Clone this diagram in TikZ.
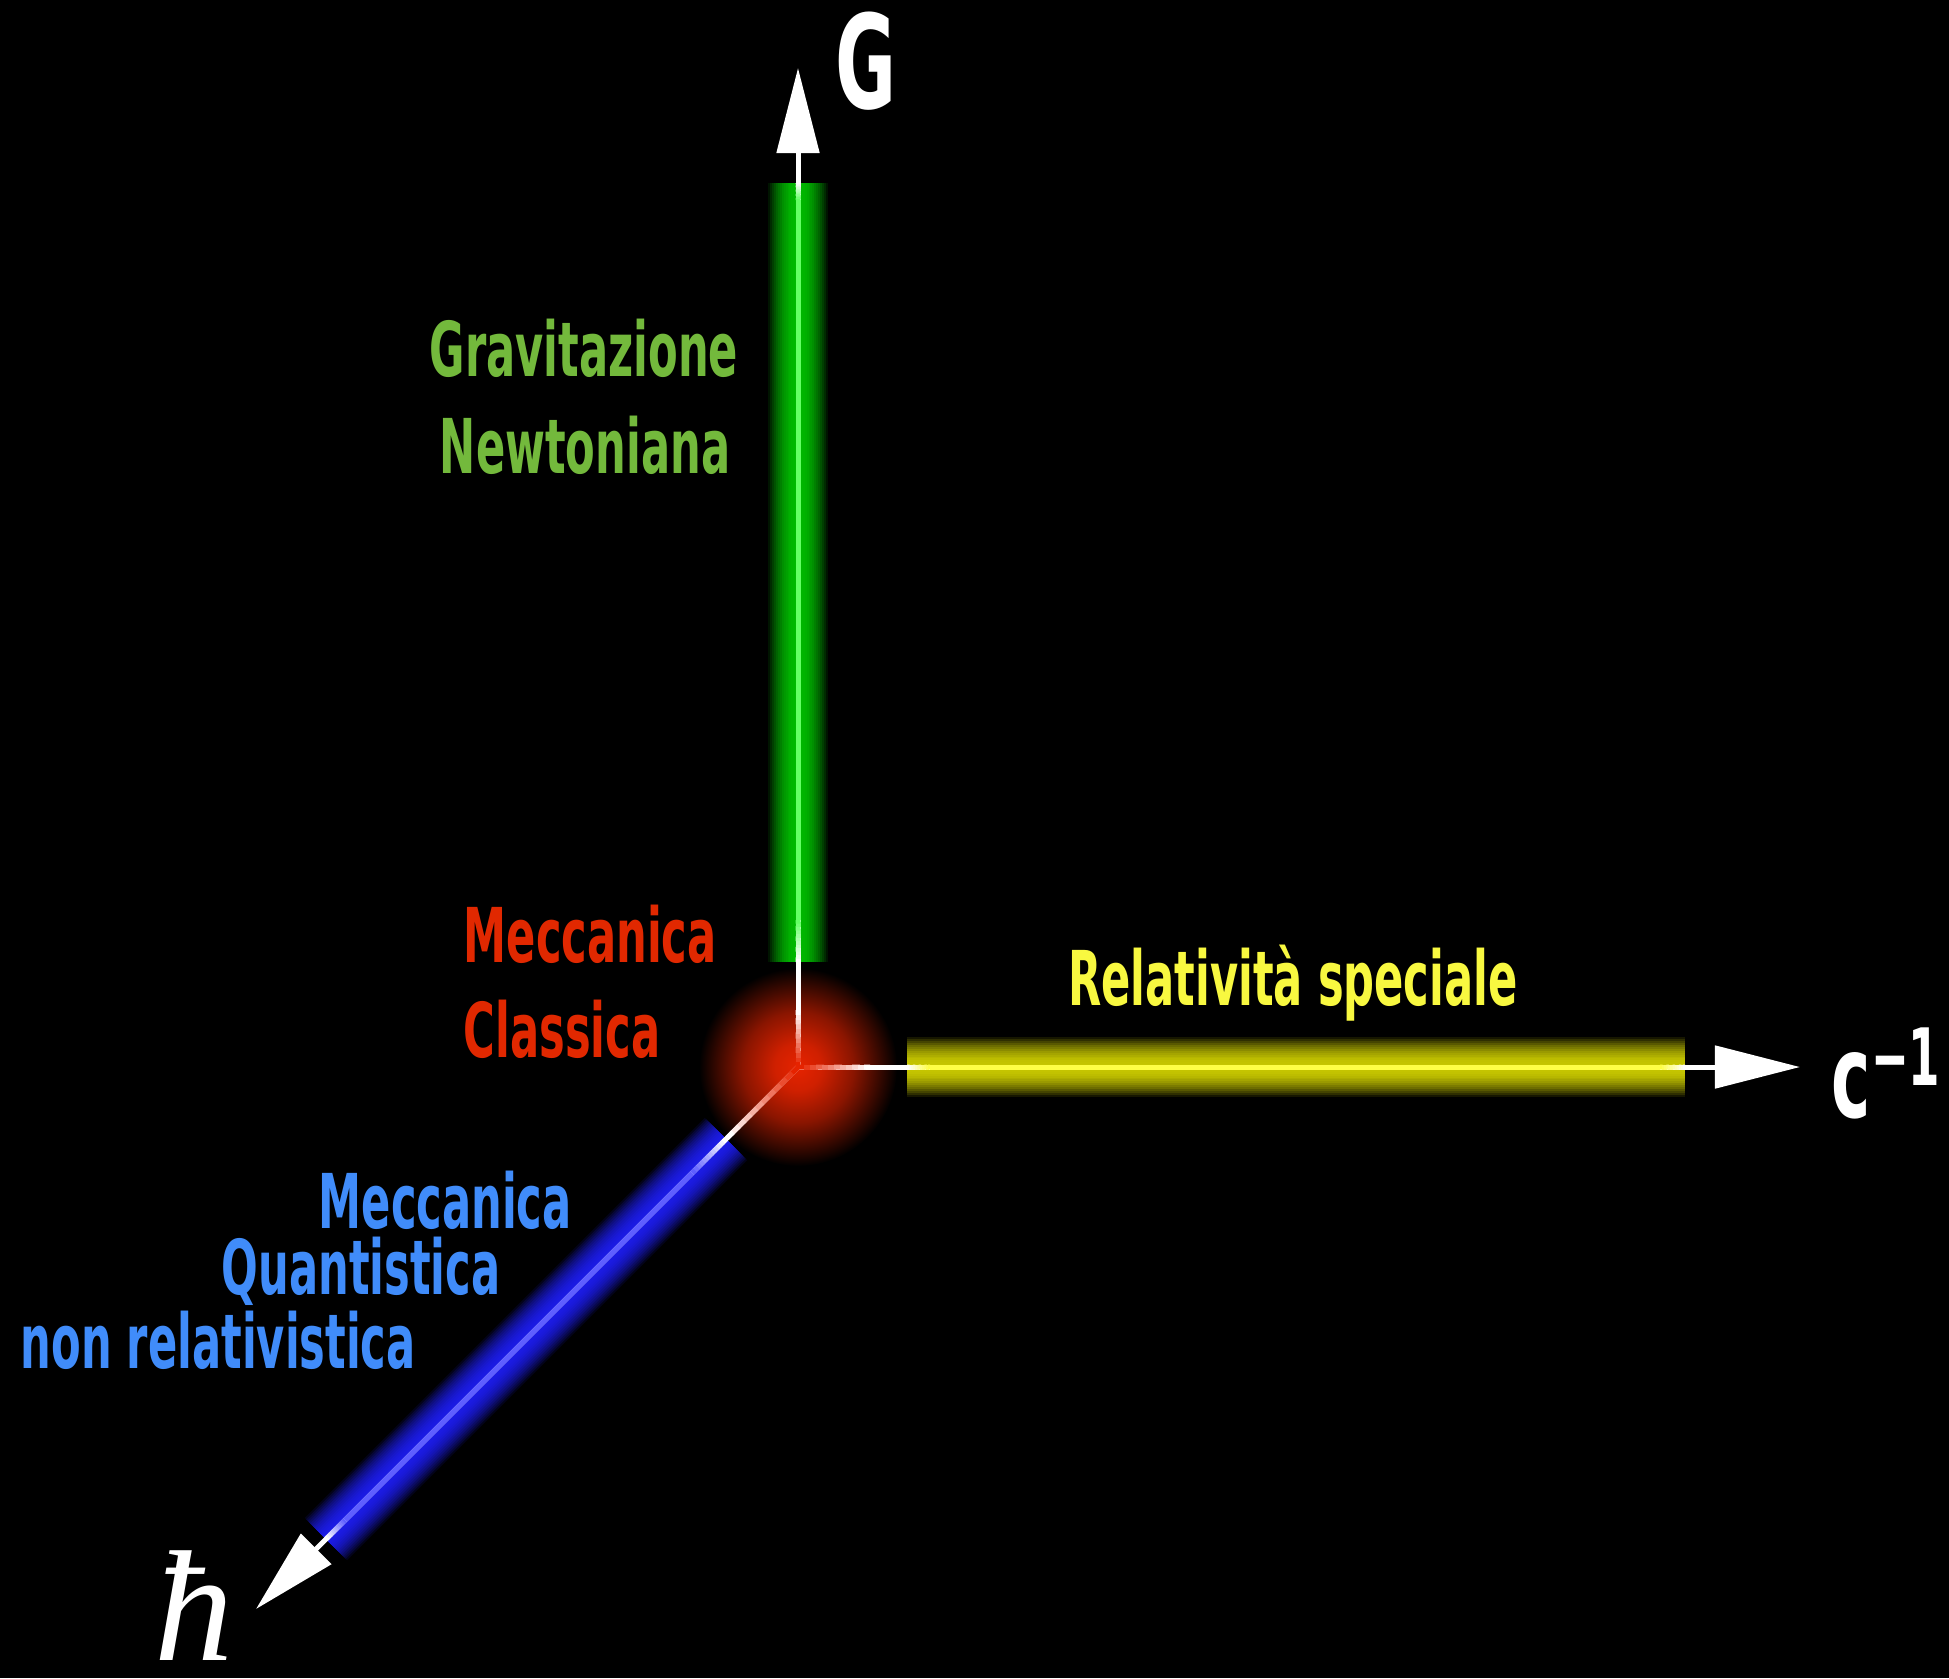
\documentclass[tikz,border=0pt]{standalone}
\usepackage{fontspec}
\newfontfamily\dinfont{DejaVu Sans Condensed Bold}[FakeStretch=0.635]
\newfontfamily\hbarfont{Liberation Serif Italic}
\usetikzlibrary{arrows.meta, calc}
\definecolor{GravGreen}{RGB}{115,185,60}
\definecolor{ClassRed}{RGB}{225,40,0}
\definecolor{RelYellow}{RGB}{248,248,64}
\definecolor{QuantBlue}{RGB}{64,140,250}
\definecolor{GlowGreen}{RGB}{0,205,0}
\definecolor{LineGreen}{RGB}{100,255,100}
\definecolor{GlowYellow}{RGB}{220,220,0}
\definecolor{LineYellow}{RGB}{255,255,70}
\definecolor{GlowBlue}{RGB}{30,30,255}
\definecolor{LineBlue}{RGB}{95,95,255}
\definecolor{CoreRed}{RGB}{230,35,0}
\pgfdeclareradialshading{coreglow}{\pgfpoint{0bp}{0bp}}{%
  color(0bp)=(CoreRed); color(6bp)=(CoreRed!90!black); color(14bp)=(CoreRed!60!black);
  color(21bp)=(CoreRed!22!black); color(25bp)=(black); color(50bp)=(black)}

\tikzset{
  axisline/.style={white, line width=0.05cm, -{Triangle[length=0.85cm, width=0.42cm]}},
  coreline/.style={line width=0.05cm},
  lbl/.style={inner sep=0pt, font=\dinfont\fontsize{21.5}{26}\selectfont},
  axislbl/.style={inner sep=0pt, text=white},
}

% soft glowing bar between two points
\newcommand{\glowband}[3]{%
  \foreach \k in {0,...,14}{%
    \pgfmathsetmacro{\bw}{0.60-0.039*\k}%
    \pgfmathtruncatemacro{\bc}{10+80*(1-(1-\k/14)^2)}%
    \draw[line width=\bw cm, #3!\bc!black] (#1) -- (#2);
  }}
% thin line fading from one colour to another
\newcommand{\gradseg}[4]{%
  \foreach \k in {0,...,11}{%
    \pgfmathtruncatemacro{\gp}{100-100*\k/11}%
    \pgfmathsetmacro{\ka}{\k/12}%
    \pgfmathsetmacro{\kb}{min(1,(\k+1.3)/12)}%
    \draw[coreline, #3!\gp!#4] ($(#1)!\ka!(#2)$) -- ($(#1)!\kb!(#2)$);
  }}

\begin{document}
\begin{tikzpicture}[x=0.01cm, y=-0.01cm]
  \fill[black] (0,0) rectangle (1949,1678);
  \useasboundingbox (0,0) rectangle (1949,1678);

  % axes
  \coordinate (O) at (798,1067);
  \coordinate (Gtip) at (798,68);
  \coordinate (Ctip) at (1800,1067);
  \coordinate (Htip) at (256,1609);

  % glow bands
  \coordinate (gA) at (798,962);
  \coordinate (gB) at (798,183);
  \coordinate (yA) at (907,1067);
  \coordinate (yB) at (1685,1067);
  \coordinate (bA) at (726,1139);
  \coordinate (bB) at (326,1539);
  \glowband{gA}{gB}{GlowGreen}
  \glowband{yA}{yB}{GlowYellow}
  \glowband{bA}{bB}{GlowBlue}

  % red core
  \shade[shading=coreglow] (O) circle (0.99cm);

  \draw[axisline] (O) -- (Gtip);
  \draw[axisline] (O) -- (Ctip);
  \draw[axisline] (O) -- (Htip);

  % coloured parts of the axis lines
  \coordinate (gR) at (798,1010);
  \coordinate (gA2) at (798,920);
  \coordinate (gB2) at (798,200);
  \gradseg{O}{gR}{CoreRed}{white}
  \gradseg{gA}{gA2}{white}{LineGreen}
  \draw[coreline, LineGreen] (gA2) -- (gB2);
  \gradseg{gB2}{gB}{LineGreen}{white}

  \coordinate (yR) at (870,1067);
  \coordinate (yA2) at (930,1067);
  \coordinate (yB2) at (1660,1067);
  \gradseg{O}{yR}{CoreRed}{white}
  \gradseg{yA}{yA2}{white}{LineYellow}
  \draw[coreline, LineYellow] (yA2) -- (yB2);
  \gradseg{yB2}{yB}{LineYellow}{white}

  \coordinate (bR) at (727,1138);
  \coordinate (bA2) at (692,1173);
  \coordinate (bB2) at (345,1520);
  \gradseg{O}{bR}{CoreRed}{white}
  \gradseg{bA}{bA2}{white}{LineBlue}
  \draw[coreline, LineBlue] (bA2) -- (bB2);
  \gradseg{bB2}{bB}{LineBlue}{white}

  % axis names
  \node[axislbl, anchor=base, font=\dinfont\fontsize{37}{37}\selectfont] (Glbl) at (866,108) {G};
  \node[axislbl, anchor=base west, font=\dinfont\fontsize{33}{33}\selectfont] (Clbl) at (1831,1117)
    {c\raisebox{0.32cm}{\fontsize{22.5}{22.5}\selectfont −1}};
  \node[axislbl, anchor=base west, font=\hbarfont\fontsize{45}{45}\selectfont] (Hlbl) at (154,1660) {ħ};

  % theories
  \node[lbl, anchor=base, text=GravGreen] (grav1) at (584,376) {Gravitazione};
  \node[lbl, anchor=base, text=GravGreen] (grav2) at (585,473) {Newtoniana};
  \node[lbl, anchor=base west, text=ClassRed] (class1) at (463,962) {Meccanica};
  \node[lbl, anchor=base west, text=ClassRed] (class2) at (463,1057) {Classica};
  \node[lbl, anchor=base, text=RelYellow] (rel) at (1293,1005) {Relatività speciale};
  \node[lbl, anchor=base west, text=QuantBlue] (quant1) at (318,1228) {Meccanica};
  \node[lbl, anchor=base west, text=QuantBlue] (quant2) at (221,1294) {Quantistica};
  \node[lbl, anchor=base west, text=QuantBlue] (quant3) at (20,1368) {non relativistica};
\end{tikzpicture}
\end{document}
